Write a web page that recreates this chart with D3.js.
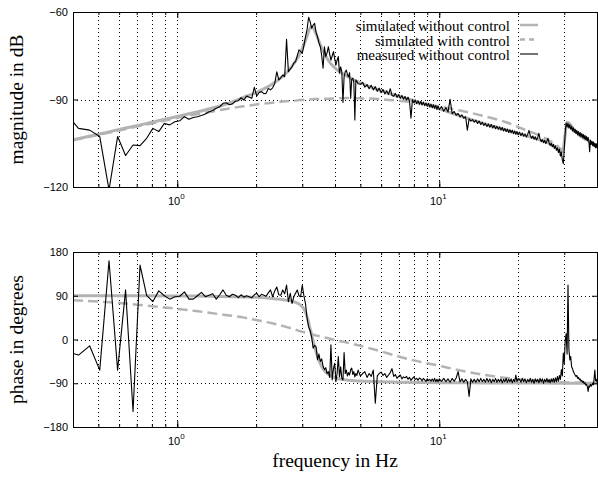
<!DOCTYPE html>
<html lang="en">
<head>
  <meta charset="UTF-8">
  <title>Frequency response</title>
  <script src="https://d3js.org/d3.v7.min.js"></script>
  <style>
    body { margin: 0; background: white; }
    .tick-label { font-family: "Liberation Sans", Arial, sans-serif; font-size: 11px; }
    .axis-title { font-family: "Liberation Serif", "Times New Roman", serif; font-size: 19.5px; }
    .legend-text { font-family: "Liberation Serif", "Times New Roman", serif; font-size: 15px; }
  </style>
</head>
<body>
  <svg width="598" height="477"></svg>

  <script>
    // x grid / ticks
    const gridFreqs = [0.5, 0.6, 0.7, 0.8, 0.9, 1, 2, 3, 4, 5, 6, 7, 8, 9, 10, 20, 30];
    const decadeTicks = [1, 10];
    const decadeLabels = ["0", "1"];
    const magTicks = [-120, -90, -60];
    const phaseTicks = [-180, -90, 0, 90, 180];
    const legendLabels = ["simulated without control", "simulated with control", "measured without control"];

    // simulated curves (Hz, dB / degrees)
    const simFreq = [0.4, 0.5, 0.6, 0.7, 0.8, 1.0, 1.2, 1.5, 1.8, 2.0,
      2.3, 2.6, 2.8, 2.95, 3.05, 3.15, 3.2, 3.25, 3.3, 3.4,
      3.5, 3.6, 3.8, 4.0, 4.5, 5, 6, 7, 8, 10,
      12, 15, 18, 21, 25, 28, 29.5, 30.8, 33, 35, 40];
    const simMagOpen = [-103.8, -101.9, -100.3, -99.0, -97.8, -95.8, -94.2, -91.9, -89.2, -87.6,
      -84.8, -81.0, -77.5, -74.0, -71.0, -67.5, -65.8, -65.0, -65.4, -67.8,
      -70.8, -73.3, -77.0, -79.2, -82.3, -84.3, -87.0, -88.9, -90.4, -93.2,
      -95.6, -98.4, -100.5, -102.2, -104.3, -106.3, -108.0, -97.8, -100.8, -102.6, -105.8];
    const simMagCtrl = [-104.0, -102.1, -100.6, -99.3, -98.2, -96.3, -95.0, -93.4, -92.3, -91.7,
      -91.1, -90.6, -90.4, -90.2, -90.1, -90.0, -90.0, -89.9, -89.9, -89.8,
      -89.8, -89.7, -89.7, -89.6, -89.5, -89.6, -89.9, -90.4, -91.0, -92.4,
      -93.8, -95.8, -97.8, -100.2, -103.0, -105.6, -107.2, -99.0, -101.2, -102.9, -106.0];
    const simPhaseOpen = [90, 90, 90, 90, 89.8, 89.6, 89.3, 88.5, 87.5, 86.7,
      84.5, 81, 77.5, 71, 62, 42, 26, 12, -3, -28,
      -47, -60, -73, -79, -84, -85.5, -87, -87.8, -88.3, -88.8,
      -89.1, -89.3, -89.5, -89.6, -89.7, -89.8, -89.8, -89.9, -89.9, -89.9, -90];
    const simPhaseCtrl = [81, 78, 75, 71.5, 68.5, 63, 58, 51, 45, 40,
      33.3, 26, 21, 17, 15, 13, 12, 11, 10, 8,
      6.5, 5, 2, -1, -7, -13, -24.5, -35, -43, -54,
      -63.5, -73, -79, -83, -86, -87.3, -87.8, -88.2, -88.6, -89, -89.5];

    // measured response
    const measFreq = [
      0.377, 0.420, 0.463, 0.506, 0.549, 0.592, 0.635, 0.678, 0.721, 0.764,
      0.807, 0.850, 0.893, 0.936, 0.979, 1.022, 1.065, 1.108, 1.151, 1.194,
      1.237, 1.280, 1.323, 1.366, 1.409, 1.452, 1.495, 1.538, 1.581, 1.624,
      1.667, 1.710, 1.753, 1.796, 1.839, 1.882, 1.925, 1.968, 2.011, 2.054,
      2.097, 2.140, 2.183, 2.226, 2.269, 2.312, 2.355, 2.398, 2.441, 2.484,
      2.527, 2.570, 2.613, 2.656, 2.699, 2.742, 2.785, 2.828, 2.871, 2.914,
      2.957, 3.000, 3.043, 3.086, 3.129, 3.172, 3.215, 3.258, 3.301, 3.344,
      3.387, 3.430, 3.473, 3.516, 3.559, 3.602, 3.645, 3.688, 3.731, 3.774,
      3.817, 3.860, 3.903, 3.946, 3.989, 4.032, 4.075, 4.118, 4.161, 4.204,
      4.247, 4.290, 4.333, 4.376, 4.419, 4.462, 4.505, 4.548, 4.591, 4.634,
      4.677, 4.720, 4.763, 4.806, 4.849, 4.9, 5.0, 5.1, 5.2, 5.3,
      5.4, 5.5, 5.6, 5.7, 5.8, 5.9, 6.0, 6.1, 6.2, 6.3,
      6.4, 6.5, 6.6, 6.7, 6.8, 6.9, 7.0, 7.1, 7.2, 7.3,
      7.4, 7.5, 7.6, 7.7, 7.8, 7.9, 8.0, 8.1, 8.2, 8.3,
      8.4, 8.5, 8.6, 8.7, 8.8, 8.9, 9.0, 9.1, 9.2, 9.3,
      9.4, 9.5, 9.6, 9.7, 9.8, 9.9, 10.0, 10.2, 10.4, 10.6,
      10.8, 11.0, 11.2, 11.4, 11.6, 11.8, 12.0, 12.2, 12.4, 12.6,
      12.8, 13.0, 13.2, 13.4, 13.6, 13.8, 14.0, 14.2, 14.4, 14.6,
      14.8, 15.0, 15.2, 15.4, 15.6, 15.8, 16.0, 16.2, 16.4, 16.6,
      16.8, 17.0, 17.2, 17.4, 17.6, 17.8, 18.0, 18.2, 18.4, 18.6,
      18.8, 19.0, 19.2, 19.4, 19.6, 19.8, 20.0, 20.25, 20.5, 20.75,
      21.0, 21.25, 21.5, 21.75, 22.0, 22.25, 22.5, 22.75, 23.0, 23.25,
      23.5, 23.75, 24.0, 24.25, 24.5, 24.75, 25.0, 25.25, 25.5, 25.75,
      26.0, 26.25, 26.5, 26.75, 27.0, 27.25, 27.5, 27.75, 28.0, 28.25,
      28.5, 28.75, 29.0, 29.25, 29.5, 29.75, 30.0, 30.25, 30.5, 30.75,
      31.0, 31.25, 31.5, 31.75, 32.0, 32.25, 32.5, 32.75, 33.0, 33.25,
      33.5, 33.75, 34.0, 34.25, 34.5, 34.75, 35.0, 35.25, 35.5, 35.75,
      36.0, 36.25, 36.5, 36.75, 37.0, 37.25, 37.5, 37.75, 38.0, 38.25,
      38.5, 38.75, 39.0, 39.25, 39.5, 39.75, 40.0];
    const measMag = [
      -95, -99.9, -100.5, -102.7, -121, -102.7, -109.2, -105.6, -105.8, -103.3,
      -99.9, -101, -98.2, -98.7, -97.6, -97.3, -95.9, -96.8, -96.2, -95.9,
      -95.5, -95.0, -94.2, -93.8, -93.0, -92.5, -91.3, -91.1, -91.8, -91.5,
      -90.6, -90.4, -89.4, -90.2, -88.8, -89.2, -89.6, -85.8, -88.8, -87.6,
      -87.3, -88.0, -87.9, -86.2, -86.7, -86.0, -84.5, -80.5, -83.3, -82.5,
      -81.6, -82.2, -69.4, -80.5, -79.6, -78.8, -77.5, -77.0, -75.0, -73.0,
      -73.5, -74.2, -71.5, -68.5, -66, -61.8, -63.3, -65.6, -64.5, -63.9,
      -67, -68.5, -70.5, -71.9, -75, -79.3, -71.9, -75.3, -74, -71.9,
      -74.5, -76.5, -75, -73.6, -76, -78.2, -76.5, -75.3, -81, -78.8,
      -80.5, -91, -82.2, -80.5, -79.9, -81.5, -82.2, -80.8, -89.6, -83,
      -82.7, -84, -97, -83.3, -83.8, -84.6, -84.8, -84.1, -85.8, -84.9,
      -86.3, -85.1, -86.7, -85.6, -87.2, -86.1, -87.7, -86.6, -88.1, -87.0,
      -88.3, -86.3, -88.6, -88.9, -87.9, -89.3, -88.3, -89.6, -88.6, -89.9,
      -89.0, -90.2, -89.2, -90.6, -96.4, -90.0, -91.1, -90.2, -91.4, -90.5,
      -91.6, -90.7, -91.9, -90.9, -92.1, -91.2, -92.3, -91.3, -92.6, -91.6,
      -92.8, -91.8, -93.0, -92.0, -93.4, -92.2, -93.5, -92.4, -94.0, -92.8,
      -94.3, -89.9, -94.9, -94.1, -95.4, -94.8, -96.0, -95.3, -96.4, -95.9,
      -100.5, -96.6, -97.4, -96.9, -97.8, -97.1, -98.2, -97.4, -98.6, -97.8,
      -98.9, -98.2, -99.3, -98.4, -99.5, -98.6, -99.8, -98.9, -100.0, -99.2,
      -100.2, -99.4, -100.5, -99.6, -100.8, -99.9, -101.0, -100.1, -101.3, -100.4,
      -101.4, -100.5, -101.7, -100.8, -101.9, -101.0, -102.1, -101.2, -102.4, -101.5,
      -102.6, -101.8, -102.9, -102.0, -100.6, -102.3, -103.3, -102.5, -103.6, -102.8,
      -103.9, -103.1, -101.6, -103.5, -104.5, -103.7, -104.8, -104.0, -105.1, -104.3,
      -103.3, -104.8, -105.8, -105.0, -106.2, -105.4, -106.8, -105.9, -107.4, -106.6,
      -108.2, -107.0, -109.4, -108.0, -110.8, -112.0, -107.0, -101.5, -98.0, -99.4,
      -98.2, -99.8, -98.6, -100.2, -99.2, -100.8, -99.7, -101.3, -100.2, -101.7,
      -100.6, -102.1, -101.0, -102.5, -101.3, -102.8, -101.7, -103.1, -102.0, -103.5,
      -102.3, -103.8, -102.7, -104.2, -103.0, -104.4, -107.9, -103.9, -105.4, -104.3,
      -105.8, -104.6, -106.2, -105.0, -106.5, -105.2, -106.7];
    const measPhase = [
      -25, -32, -13, -63, 162, -63, 102, -148, 153, 91,
      78, 100, 90, 83, 88, 89, 98, 83, 83, 90,
      97, 88, 91, 94, 83, 92, 102, 91, 88, 93,
      91, 86, 92, 87, 90, 88, 86, 92, 95, 88,
      93, 91, 89, 96, 102, 88, 100, 108, 92, 91,
      102, 94, 112, 78, 95, 74, 88, 95, 102, 90,
      88, 112, 90, 74, 44, 26, 18, 5, -18, -12,
      -15, -42, -30, -45, -40, -55, -62, -58, -70, -66,
      -78, -11, -83, -60, -49, -87, -70, -35, -77, -56,
      -80, -83, -27, -70, -63, -75, -68, -73, -62, -59,
      -72, -66, -77, -70, -74, -63, -75, -70, -66, -78,
      -70, -76, -63, -131, -75, -70, -67, -74, -70, -78,
      -73, -68, -60, -76, -72, -80, -76, -73, -81, -77,
      -79, -76, -82, -78, -84, -80, -77, -82, -80, -84,
      -79, -81, -85, -80, -83, -86, -81, -84, -82, -86,
      -81, -86, -80, -87, -82, -87, -81, -86, -80, -87,
      -81, -88, -80, -86, -79, -66, -87, -81, -88, -82,
      -87, -117, -81, -88, -82, -88, -81, -87, -80, -87,
      -82, -88, -80, -87, -81, -89, -82, -87, -80, -88,
      -82, -87, -81, -89, -82, -87, -80, -88, -82, -87,
      -81, -89, -82, -87, -73, -87, -81, -82, -88, -80,
      -87, -81, -89, -82, -87, -80, -88, -82, -90, -81,
      -87, -82, -89, -80, -87, -81, -90, -82, -87, -80,
      -88, -82, -89, -81, -87, -80, -88, -79, -87, -76,
      -86, -74, -82, -62, -75, -28, -50, -1, 12, -30,
      112, -20, -42, -35, -56, -60, -66, -70, -73, -76,
      -74, -80, -78, -83, -81, -86, -84, -88, -86, -91,
      -89, -94, -92, -97, -107, -95, -98, -92, -96, -94,
      -90, -93, -80, -63, -85, -82, -88];

    const gray = "#b3b3b3";
    const left = 73, right = 597;
    const svg = d3.select("svg");

    const x = d3.scaleLog().domain([0.4, 40]).range([left, right]);

    const panels = [
      { top: 12, bottom: 187, domain: [-120, -60], ticks: magTicks,
        open: simMagOpen, ctrl: simMagCtrl, meas: measMag, title: "magnitude in dB", id: "mag" },
      { top: 252, bottom: 427, domain: [-180, 180], ticks: phaseTicks,
        open: simPhaseOpen, ctrl: simPhaseCtrl, meas: measPhase, title: "phase in degrees", id: "phase" }
    ];

    const minorFreqs = [];
    [0.1, 1, 10].forEach(d => {
      for (let m = 1; m <= 9; m++) {
        const f = +(d * m).toPrecision(3);
        if (f >= 0.4 && f <= 40) minorFreqs.push(f);
      }
    });

    panels.forEach(p => {
      const y = d3.scaleLinear().domain(p.domain).range([p.bottom, p.top]);
      const g = svg.append("g");

      svg.append("clipPath").attr("id", "clip-" + p.id)
        .append("rect")
        .attr("x", left).attr("y", p.top)
        .attr("width", right - left).attr("height", p.bottom - p.top);

      // dotted grid
      g.selectAll(".vgrid").data(gridFreqs).enter().append("line")
        .attr("x1", d => Math.round(x(d)) + 0.5).attr("x2", d => Math.round(x(d)) + 0.5)
        .attr("y1", p.top).attr("y2", p.bottom)
        .attr("stroke", "#000").attr("stroke-width", 1).attr("stroke-dasharray", "1,3");
      g.selectAll(".hgrid").data(p.ticks.slice(1, -1)).enter().append("line")
        .attr("x1", left).attr("x2", right)
        .attr("y1", d => Math.round(y(d)) + 0.5).attr("y2", d => Math.round(y(d)) + 0.5)
        .attr("stroke", "#000").attr("stroke-width", 1).attr("stroke-dasharray", "1,3");

      const line = vals => d3.line()
        .x((d, i) => x(simFreq[i]))
        .y(d => y(d))
        .curve(d3.curveMonotoneX)(vals);

      const plot = g.append("g").attr("clip-path", `url(#clip-${p.id})`);
      plot.append("path").attr("d", line(p.open))
        .attr("fill", "none").attr("stroke", gray).attr("stroke-width", 3);
      plot.append("path").attr("d", line(p.ctrl))
        .attr("fill", "none").attr("stroke", gray).attr("stroke-width", 2.5)
        .attr("stroke-dasharray", "10,5");

      const n = Math.min(measFreq.length, p.meas.length);
      const measPts = d3.range(n).map(i => [measFreq[i], p.meas[i]]);
      plot.append("path")
        .attr("d", d3.line().x(d => x(d[0])).y(d => y(d[1]))(measPts))
        .attr("fill", "none").attr("stroke", "#000").attr("stroke-width", 1.1)
        .attr("stroke-linejoin", "round");

      // axes (ticks pointing inwards)
      const axG = g.append("g");
      axG.append("g").attr("transform", `translate(0,${p.bottom})`)
        .call(d3.axisBottom(x).tickValues(minorFreqs).tickSizeInner(-3).tickSizeOuter(0).tickFormat(""));
      axG.append("g").attr("transform", `translate(0,${p.top})`)
        .call(d3.axisTop(x).tickValues(minorFreqs).tickSizeInner(-3).tickSizeOuter(0).tickFormat(""));
      axG.append("g").attr("transform", `translate(0,${p.bottom})`)
        .call(d3.axisBottom(x).tickValues(decadeTicks).tickSizeInner(-6).tickSizeOuter(0).tickFormat(""));
      axG.append("g").attr("transform", `translate(0,${p.top})`)
        .call(d3.axisTop(x).tickValues(decadeTicks).tickSizeInner(-6).tickSizeOuter(0).tickFormat(""));
      axG.append("g").attr("transform", `translate(${left},0)`)
        .call(d3.axisLeft(y).tickValues(p.ticks).tickSizeInner(-5).tickSizeOuter(0).tickPadding(5)
          .tickFormat(d => d < 0 ? "\u2212" + Math.abs(d) : String(d)));
      axG.append("g").attr("transform", `translate(${right},0)`)
        .call(d3.axisRight(y).tickValues(p.ticks).tickSizeInner(-5).tickSizeOuter(0).tickFormat(""));
      axG.selectAll("text").attr("class", "tick-label").attr("fill", "#000")
        .style("font-family", "'Liberation Sans', Arial, sans-serif").style("font-size", "11px");
      axG.selectAll(".domain").attr("stroke", "#000");
      axG.selectAll(".tick line").attr("stroke", "#000");

      // decade labels 10^n
      decadeTicks.forEach((f, i) => {
        const t = g.append("text").attr("class", "tick-label")
          .attr("x", x(f) - 1).attr("y", p.bottom + 18).attr("text-anchor", "middle");
        t.append("tspan").text("10");
        t.append("tspan").attr("dy", -6).attr("font-size", 8).text(decadeLabels[i]);
      });

      g.append("text").attr("class", "axis-title")
        .attr("transform", `translate(23,${(p.top + p.bottom) / 2}) rotate(-90)`)
        .attr("text-anchor", "middle").text(p.title);
    });

    svg.append("text").attr("class", "axis-title")
      .attr("x", (left + right) / 2).attr("y", 467).attr("text-anchor", "middle")
      .text("frequency in Hz");

    // legend
    const legendStyles = [
      { stroke: gray, width: 2.5, dash: null },
      { stroke: gray, width: 2.5, dash: "5,4" },
      { stroke: "#444", width: 1.5, dash: null }
    ];
    const legendBase = [31, 45.5, 60];
    legendLabels.forEach((label, i) => {
      const yy = legendBase[i];
      svg.append("text").attr("class", "legend-text")
        .attr("x", 510).attr("y", yy).attr("text-anchor", "end").text(label);
      svg.append("line")
        .attr("x1", 520).attr("x2", 538).attr("y1", yy - 6).attr("y2", yy - 6)
        .attr("stroke", legendStyles[i].stroke).attr("stroke-width", legendStyles[i].width)
        .attr("stroke-dasharray", legendStyles[i].dash);
    });
  </script>
</body>
</html>
